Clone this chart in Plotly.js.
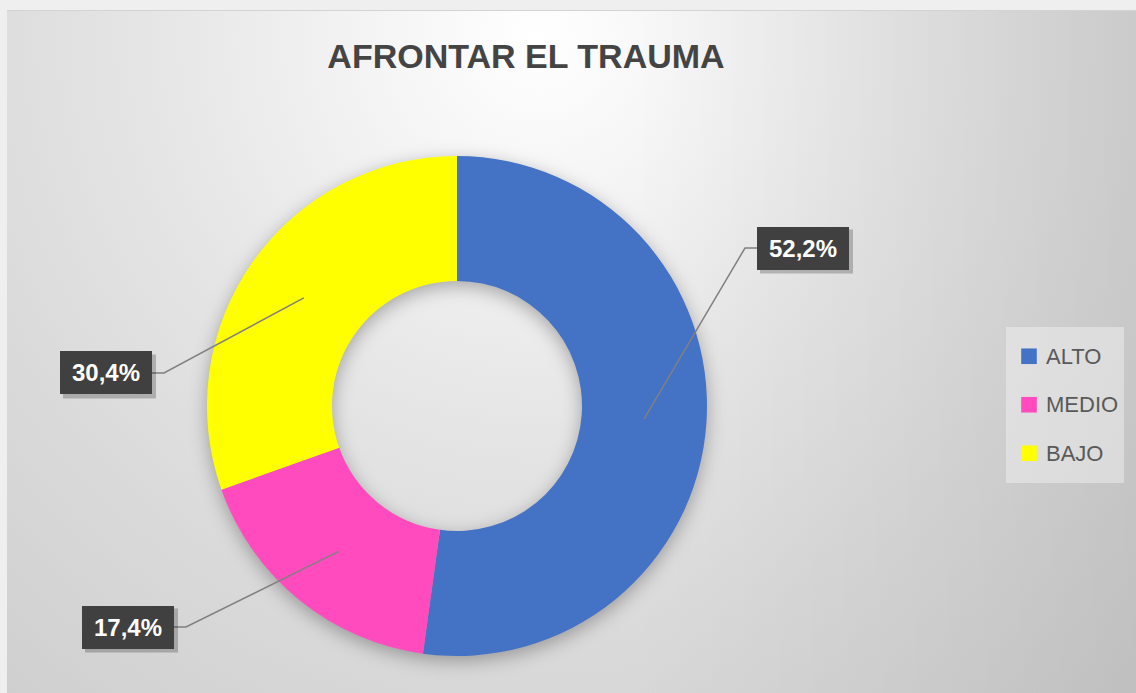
<!DOCTYPE html>
<html>
<head>
<meta charset="utf-8">
<script src="https://cdn.plot.ly/plotly-3.0.1.min.js"></script>
<style>
  html, body { margin:0; padding:0; width:1136px; height:693px; overflow:hidden; background:#efefef; }
  #bg {
    position:absolute; left:7px; top:10px; width:1129px; height:683px;
    border-top:1px solid #d3d3d3; box-sizing:border-box;
    background:
      linear-gradient(to right, rgba(0,0,0,0) 55%, rgba(0,0,0,0.07) 100%),
      radial-gradient(circle at 47% 4%, #ffffff 0px, #f6f6f6 140px, #e6e6e6 380px, #dadada 600px, #cfcfcf 850px, #c8c8c8 1100px);
  }
  #chart { position:absolute; left:0; top:0; width:1136px; height:693px; }
  .pielayer { filter: drop-shadow(0px 5px 9px rgba(0,0,0,0.30)); }
  .legendpie { transform: translate(23px, 0px) scale(1.3); }
</style>
</head>
<body>
<div id="bg"></div>
<div id="chart"></div>
<script>
// ---- data ----
const categories = ['ALTO', 'MEDIO', 'BAJO'];
const counts = [12, 4, 7];
const sliceColors = ['#4472C4', '#FF4BBD', '#FFFF00'];
const chartTitle = 'AFRONTAR EL TRAUMA';

// ---- layout constants (pixels) ----
const W = 1136, H = 693;
const CX = 457, CY = 406, R = 250, HOLE = 0.5;
// data-label boxes: centre and which side the leader attaches to
const labelBoxes = [
  {cx: 803, cy: 248, side: 'left'},
  {cx: 128, cy: 627, side: 'right'},
  {cx: 106, cy: 373, side: 'right'}
];
const BOXW = 92, BOXH = 43, ELBOW = 12;

const px = x => x / W;
const py = y => 1 - y / H;

const total = counts.reduce((a, b) => a + b, 0);
const pctText = counts.map(v => (v / total * 100).toFixed(1).replace('.', ',') + '%');

const trace = {
  type: 'pie',
  labels: categories.map(c => '<span style="font-size:22px;baseline-shift:6px">' + c + '</span>'),
  values: counts,
  marker: { colors: sliceColors, line: { width: 0 } },
  hole: HOLE,
  sort: false,
  direction: 'clockwise',
  rotation: 0,
  textinfo: 'none',
  hoverinfo: 'none',
  domain: { x: [px(CX - R), px(CX + R)], y: [py(CY + R), py(CY - R)] }
};

const shapes = [];
const annotations = [];
let cum = 0;
counts.forEach((v, i) => {
  const mid = (cum + v / 2) / total;
  cum += v;
  const th = 2 * Math.PI * mid;
  const rr = R * (1 + HOLE) / 2;
  const ax = CX + rr * Math.sin(th);
  const ay = CY - rr * Math.cos(th);
  const b = labelBoxes[i];
  const edgeX = b.side === 'left' ? b.cx - BOXW / 2 : b.cx + BOXW / 2;
  const elbowX = b.side === 'left' ? edgeX - ELBOW : edgeX + ELBOW;
  shapes.push({
    type: 'path', xref: 'paper', yref: 'paper',
    path: `M ${px(ax)},${py(ay)} L ${px(elbowX)},${py(b.cy)} L ${px(edgeX)},${py(b.cy)}`,
    line: { color: '#808080', width: 1.5 }
  });
  // soft shadow of the label box
  shapes.push({
    type: 'rect', xref: 'paper', yref: 'paper',
    x0: px(b.cx - BOXW / 2 + 3), x1: px(b.cx + BOXW / 2 + 4),
    y0: py(b.cy + BOXH / 2 + 4), y1: py(b.cy - BOXH / 2 + 3),
    fillcolor: 'rgba(0,0,0,0.22)', line: { width: 0 }
  });
  annotations.push({
    xref: 'paper', yref: 'paper', x: px(b.cx), y: py(b.cy),
    xanchor: 'center', yanchor: 'middle', showarrow: false,
    text: '<b>' + pctText[i] + '</b>',
    font: { family: 'Liberation Sans, Arial, sans-serif', size: 24, color: '#ffffff' },
    bgcolor: '#404040', bordercolor: '#404040', borderwidth: 1,
    width: BOXW - 16, height: BOXH - 16, borderpad: 7
  });
});

const layout = {
  width: W, height: H,
  margin: { l: 0, r: 0, t: 0, b: 0 },
  paper_bgcolor: 'rgba(0,0,0,0)',
  plot_bgcolor: 'rgba(0,0,0,0)',
  title: {
    text: '<b>' + chartTitle + '</b>',
    x: px(526), xanchor: 'center', xref: 'container',
    y: py(56), yanchor: 'middle', yref: 'container',
    font: { family: 'Liberation Sans, Arial, sans-serif', size: 34, color: '#444444' }
  },
  showlegend: true,
  legend: {
    x: px(1006), xanchor: 'left', y: py(327), yanchor: 'top',
    bgcolor: 'rgba(245,245,245,0.45)', borderwidth: 0,
    font: { family: 'Liberation Sans, Arial, sans-serif', size: 35, color: '#595959' }
  },
  shapes: shapes,
  annotations: annotations
};

Plotly.newPlot('chart', [trace], layout, { displayModeBar: false, staticPlot: true });
</script>
</body>
</html>
